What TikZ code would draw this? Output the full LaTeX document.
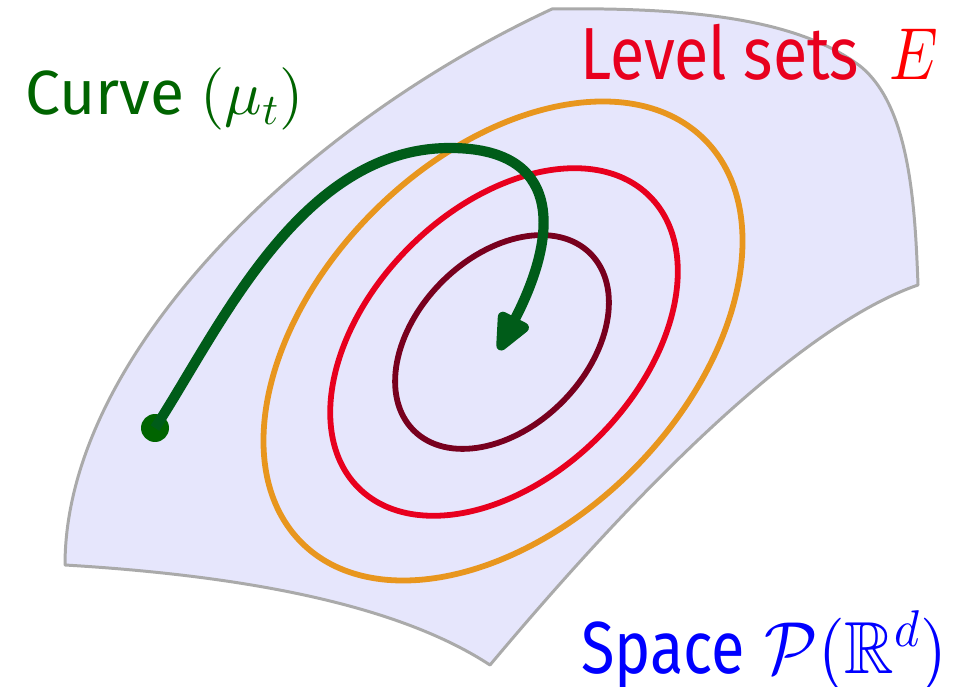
\documentclass[tikz,border=0pt]{standalone}
\usepackage{amsmath, amssymb}
% scalable math fonts for the large labels
\DeclareFontShape{OT1}{cmr}{m}{n}{<->cmr10}{}
\DeclareFontFamily{OML}{cmm}{\skewchar\font127}
\DeclareFontShape{OML}{cmm}{m}{it}{<->cmmi10}{}
\DeclareFontFamily{OMS}{cmsy}{\skewchar\font48}
\DeclareFontShape{OMS}{cmsy}{m}{n}{<->cmsy10}{}
\DeclareFontFamily{U}{msb}{}
\DeclareFontShape{U}{msb}{m}{n}{<->msbm10}{}
\usepackage[no-math]{fontspec}
\setmainfont{Fira Sans}
\usetikzlibrary{arrows.meta}
\definecolor{spacefill}{RGB}{230,230,252}
\definecolor{spaceedge}{RGB}{170,170,170}
\definecolor{levelout}{RGB}{232,150,30}
\definecolor{levelmid}{RGB}{232,0,30}
\definecolor{levelin}{RGB}{120,0,30}
\definecolor{curvegreen}{RGB}{0,92,25}
\definecolor{taggreen}{RGB}{0,100,0}
\definecolor{tagred}{RGB}{232,0,30}
\newcommand{\narrow}[2][0.85]{\scalebox{#1}[1]{#2}}

\begin{document}
\begin{tikzpicture}[
    x=0.02cm, y=0.02cm,
    % Styles
    level/.style={line width=3.3pt},
    tag/.style={inner sep=0pt, anchor=base west},
    bigtext/.style={font=\fontsize{42}{48}\selectfont},
    midtext/.style={font=\fontsize{35.5}{40}\selectfont},
]
\useasboundingbox (0,0) rectangle (962,686);

% ===== The space =====
\draw[spaceedge, fill=spacefill, line width=1.7pt, line join=round]
    (65,121) .. controls (65,330) and (300,560) .. (552,677)
    .. controls (700,679) and (800,665) .. (860,620)
    .. controls (910,580) and (915,480) .. (918,401)
    .. controls (800,360) and (640,200) .. (490,21)
    .. controls (400,80) and (250,110) .. cycle;

% ===== Level sets =====
\draw[level, levelout, rotate around={45:(503,345)}]
    (503,345) ellipse [x radius=285, y radius=183];
\draw[level, levelmid, rotate around={45:(504,344)}]
    (504,344) ellipse [x radius=206, y radius=134];
\draw[level, levelin, rotate around={45:(502,344)}]
    (502,344) ellipse [x radius=125, y radius=85];

% ===== Curve =====
\node[circle, fill=taggreen, inner sep=0pt, minimum size=0.56cm] (start) at (155,258) {};
\coordinate (finish) at (499,336);
\draw[curvegreen, line width=5.8pt,
      -{Triangle[length=0.9cm, width=0.72cm, round]}]
    (start.center) .. controls (220,358) and (300,538) .. (450,538)
    .. controls (560,538) and (561,456) .. (finish);

% ===== Labels =====
\node[tag, midtext, text=taggreen] (curvetag) at (25,571) {Curve $(\mu_t)$};
\node[tag, bigtext, text=tagred] (leveltag) at (580,606)
    {\narrow{Level sets\,} \narrow[0.83]{\textcolor{red}{$E$}}};
\node[tag, bigtext, text=blue] (spacetag) at (581,13)
    {\narrow[0.83]{Space} \narrow[0.93]{$\mathcal{P}(\mathbb{R}^d)$}};

\end{tikzpicture}
\end{document}
